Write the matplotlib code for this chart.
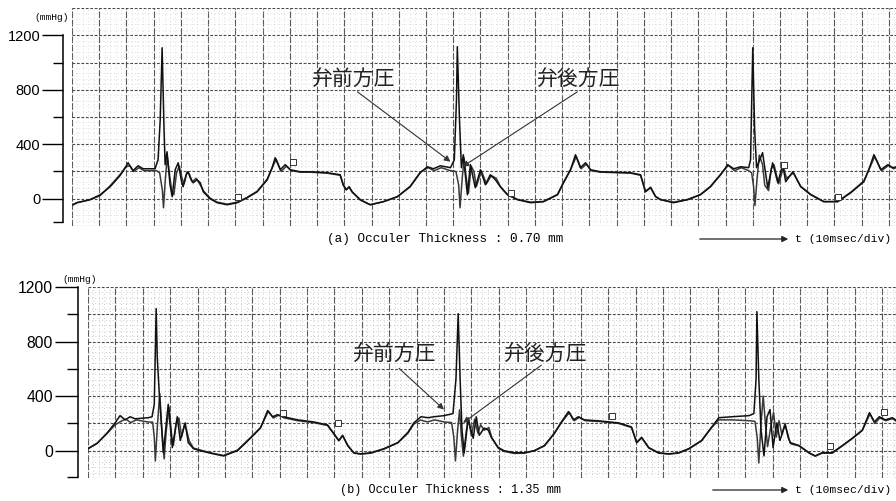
import matplotlib
matplotlib.use('Agg')
import matplotlib.pyplot as plt
import numpy as np

# t in ms (10 ms per division), pressure in mmHg
# (a) occuler thickness 0.70 mm
a_front = [(0.4, -44), (1.8, -29), (6.6, -7), (10.3, 29), (14.0, 88), (17.6, 169), (19.1, 213),
           (20.6, 264), (22.4, 206), (24.3, 242), (26.1, 220), (28.7, 220), (30.5, 220), (31.6, 286),
           (32.4, 580), (33.1, 1108), (33.8, 506), (34.2, 250), (34.9, 345), (36.0, 103), (36.8, 15),
           (37.9, 213), (39.0, 264), (40.1, 140), (40.8, 88), (41.9, 176), (42.6, 198), (43.7, 140),
           (44.5, 117), (45.9, 140), (47.1, 117), (48.2, 51), (50.7, 0), (53.3, -29), (57.0, -44),
           (60.7, -29), (64.3, 7), (68.0, 51), (71.7, 139), (73.5, 228), (74.6, 301), (76.5, 213),
           (78.3, 250), (80.1, 213), (83.8, 198), (87.5, 198), (93.7, 191), (98.5, 176), (99.6, 103),
           (100.7, 66), (101.8, 88), (102.9, 51), (105.9, -7), (109.5, -44), (114.3, -22), (119.5, 15),
           (124.2, 88), (127.9, 191), (130.5, 235), (132.7, 220), (135.3, 242), (139.0, 228),
           (140.4, 286), (141.2, 727), (141.5, 1116), (142.3, 580), (143.0, 228), (143.7, 323),
           (145.2, 29), (146.3, 250), (148.1, 81), (150.0, 213), (151.8, 103), (153.6, 176),
           (155.5, 139), (157.3, 88), (159.9, 29), (163.6, -7), (168.4, -29), (173.1, -22),
           (178.3, 29), (180.5, 117), (183.1, 213), (184.9, 323), (186.7, 228), (188.6, 264),
           (190.4, 213), (194.1, 198), (205.1, 191), (208.8, 176), (210.6, 51), (212.5, 81),
           (214.3, 15), (216.1, -7), (220.9, -29), (226.1, -7), (230.8, 29), (234.5, 88), (238.2, 176),
           (240.8, 250), (243.0, 220), (245.6, 235), (248.5, 228), (249.2, 286), (250.0, 1108),
           (250.7, 506), (251.4, 228), (253.6, 338), (255.5, 81), (257.3, 264), (259.2, 117),
           (261.0, 250), (262.1, 125), (264.7, 198), (267.6, 88), (271.3, 29), (276.1, -22),
           (281.2, -22), (286.0, 44), (290.8, 125), (292.6, 213), (294.5, 323), (297.0, 213),
           (299.6, 250), (301.4, 228), (302.9, 235)]
a_back = [(0.4, -44), (1.8, -29), (6.6, -7), (10.3, 22), (14.0, 95), (17.6, 176), (19.8, 235),
          (21.2, 242), (22.6, 200), (24.6, 228), (26.5, 206), (29.0, 206), (31.0, 206), (32.2, 190),
          (33.2, 60), (33.6, -66), (34.3, 150), (35.0, 310), (35.8, 180), (36.6, 60), (37.4, 30),
          (38.4, 190), (39.4, 240), (40.4, 150), (41.2, 110), (42.2, 195), (43.0, 185), (44.2, 125),
          (45.6, 150), (47.0, 105), (48.4, 55), (50.7, 5), (53.3, -25), (57.0, -40), (60.7, -25),
          (64.3, 10), (68.0, 55), (71.7, 145), (73.8, 240), (75.0, 290), (76.8, 200), (78.8, 240),
          (80.6, 206), (84.0, 195), (87.5, 195), (93.7, 188), (98.5, 172), (99.6, 100), (100.7, 66),
          (101.8, 85), (102.9, 48), (105.9, -10), (109.5, -44), (114.3, -22), (119.5, 15),
          (124.2, 92), (127.9, 195), (130.8, 228), (133.0, 206), (135.6, 228), (139.0, 206),
          (141.0, 200), (142.0, 100), (142.5, -66), (143.3, 150), (144.0, 300), (144.8, 150),
          (145.6, 40), (146.6, 240), (147.6, 200), (148.5, 90), (150.3, 205), (152.2, 110),
          (154.0, 170), (155.8, 150), (157.3, 90), (159.9, 32), (163.6, -5), (168.4, -25),
          (173.1, -20), (178.3, 32), (180.5, 120), (183.1, 215), (185.2, 310), (187.0, 220),
          (188.9, 255), (190.7, 206), (194.1, 195), (205.1, 188), (208.8, 172), (210.6, 55),
          (212.5, 85), (214.3, 18), (216.1, -5), (220.9, -25), (226.1, -5), (230.8, 32), (234.5, 92),
          (238.2, 180), (241.0, 245), (243.3, 206), (245.8, 228), (248.5, 206), (249.6, 190),
          (250.3, 90), (250.8, -50), (251.6, 150), (252.4, 320), (253.6, 250), (254.4, 100),
          (255.8, 60), (256.8, 220), (257.8, 250), (259.5, 110), (261.3, 230), (262.4, 150),
          (265.0, 190), (267.6, 92), (271.3, 32), (276.1, -20), (281.2, -20), (286.0, 48),
          (290.8, 130), (292.8, 220), (294.8, 310), (297.3, 206), (299.9, 245), (301.7, 220),
          (302.9, 230)]
a_marks = [(61.0, 15), (81.2, 272), (161.4, 44), (261.4, 250), (281.2, 15)]

# (b) occuler thickness 1.35 mm
b_front = [(0.0, 15), (3.3, 53), (6.9, 128), (9.9, 204), (11.7, 257), (13.6, 226), (15.4, 249),
           (17.2, 234), (22.0, 242), (23.4, 249), (24.2, 340), (24.9, 1042), (25.3, 680), (26.0, 430),
           (27.5, -15), (29.3, 340), (30.8, 23), (32.6, 249), (33.7, 75), (35.5, 204), (36.6, 60),
           (38.5, 15), (41.0, 0), (45.8, -23), (49.5, -38), (54.6, 0), (59.3, 91), (63.0, 166),
           (65.6, 294), (67.4, 249), (69.2, 264), (71.4, 249), (76.6, 226), (82.4, 211), (87.5, 189),
           (89.7, 128), (91.6, 75), (93.0, 113), (94.9, 38), (97.1, -15), (99.6, -23), (103.3, -15),
           (108.1, 15), (113.2, 60), (116.9, 136), (119.0, 204), (121.6, 249), (124.2, 242),
           (126.4, 249), (130.0, 257), (133.3, 272), (134.4, 528), (135.2, 1004), (135.9, 528),
           (136.6, 151), (137.4, -15), (138.8, 226), (140.7, 91), (141.8, 249), (142.9, 113),
           (144.7, 166), (146.2, 151), (147.3, 98), (149.8, 23), (152.0, 0), (155.7, -15),
           (159.3, -15), (163.0, 0), (166.7, 38), (170.3, 128), (172.9, 211), (175.5, 287),
           (177.3, 226), (179.1, 249), (181.3, 226), (186.4, 219), (193.8, 204), (198.5, 174),
           (200.4, 60), (202.2, 98), (204.8, 23), (208.4, -15), (212.1, -23), (215.7, -15),
           (219.4, 15), (224.1, 75), (227.8, 174), (230.4, 242), (235.2, 249), (241.4, 257),
           (243.2, 272), (244.0, 528), (244.3, 1019), (245.0, 528), (245.8, 151), (246.9, -38),
           (248.0, 249), (249.1, 302), (250.2, 23), (251.6, 204), (252.7, 75), (254.6, 189),
           (256.4, 60), (259.7, 38), (263.4, -15), (265.6, -38), (268.1, -15), (271.8, -15),
           (275.5, 38), (279.1, 91), (282.8, 151), (285.4, 279), (287.2, 211), (289.0, 249),
           (291.2, 226), (293.8, 242), (296.0, 211)]
b_back = [(0.0, 15), (3.3, 55), (6.9, 125), (9.9, 190), (12.0, 215), (13.8, 232), (15.6, 206),
          (17.6, 226), (22.0, 210), (23.6, 210), (24.2, 100), (24.6, -75), (25.4, 200), (26.2, 420),
          (27.0, 150), (27.8, -60), (28.6, 150), (29.6, 320), (30.6, 100), (31.2, 40), (32.2, 200),
          (33.2, 240), (34.2, 100), (35.2, 190), (36.0, 150), (37.0, 70), (38.5, 20), (41.0, 5),
          (45.8, -20), (49.5, -35), (54.6, 5), (59.3, 95), (63.0, 170), (65.9, 290), (67.7, 240),
          (69.6, 260), (71.8, 240), (76.6, 220), (82.4, 206), (87.5, 185), (89.7, 125), (91.6, 72),
          (93.0, 110), (94.9, 35), (97.1, -18), (99.6, -25), (103.3, -18), (108.1, 12), (113.2, 58),
          (116.9, 130), (119.0, 195), (121.4, 225), (124.0, 211), (126.6, 226), (130.0, 211),
          (132.8, 206), (133.6, 100), (134.2, -75), (135.0, 150), (135.7, 300), (136.4, 100),
          (137.1, -40), (138.2, 150), (139.0, 240), (140.0, 110), (141.2, 230), (142.4, 130),
          (143.4, 190), (144.7, 150), (146.4, 170), (147.5, 95), (149.8, 20), (152.0, -5),
          (155.7, -20), (159.3, -18), (163.0, 0), (166.7, 35), (170.3, 125), (172.9, 206),
          (175.8, 280), (177.6, 220), (179.4, 245), (181.6, 220), (186.4, 215), (193.8, 200),
          (198.5, 170), (200.4, 58), (202.2, 95), (204.8, 20), (208.4, -18), (212.1, -25),
          (215.7, -18), (219.4, 12), (224.1, 72), (227.8, 170), (230.4, 226), (235.2, 226),
          (241.4, 220), (243.6, 215), (244.4, 100), (245.0, -90), (245.8, 200), (246.6, 400),
          (247.4, 200), (248.2, 30), (249.4, 180), (250.4, 280), (251.4, 100), (252.4, 220),
          (253.4, 120), (254.6, 200), (255.8, 90), (256.8, 50), (259.7, 35), (263.4, -18),
          (265.6, -40), (268.1, -18), (271.8, -18), (275.5, 35), (279.1, 88), (282.8, 148),
          (285.6, 270), (287.4, 200), (289.2, 240), (291.4, 220), (293.8, 235), (296.0, 206)]
b_marks = [(71.4, 279), (91.2, 204), (191.2, 257), (271.1, 38), (290.9, 287)]

y_labels = [0, 400, 800, 1200]
y_minor = [200, 600, 1000]
captions = ["(a) Occuler Thickness : 0.70 mm", "(b) Occuler Thickness : 1.35 mm"]
front_label = "弁前方圧"
back_label = "弁後方圧"
time_label = "t (10msec/div)"
unit_label = "(mmHg)"

W, H = 896, 501
MONO = ['Liberation Mono', 'DejaVu Sans Mono']
JP = ['Noto Sans CJK JP', 'DejaVu Sans']


def fx(x):
    return x / W


def fy(y):
    return 1 - y / H


def make_panel(fig, left, top, bottom, ymax, px_div, axis_x, axis_low, major_len, minor_len,
               fsize, minor_col):
    ax = fig.add_axes([fx(left), fy(bottom), 1 - fx(left), fy(top) - fy(bottom)])
    xmax = (W - left) / px_div * 10
    ax.set_xticks(np.arange(0, xmax, 10))
    ax.set_xticks(np.arange(0, xmax, 2), minor=True)
    ax.set_yticks(np.arange(-200, ymax + 1, 200))
    ax.set_yticks(np.arange(-200, ymax + 1, 40), minor=True)
    # limits after the ticks, otherwise set_ticks widens the view
    ax.set_xlim(0, xmax)
    ax.set_ylim(-200, ymax)
    ax.tick_params(which='both', length=0, labelbottom=False, labelleft=False)
    for s in ax.spines.values():
        s.set_visible(False)
    ax.grid(True, which='minor', color=minor_col, lw=0.5, ls=(0, (1, 4)))
    ax.xaxis.grid(True, which='major', color='#5a5a5a', lw=0.8, ls=(0, (6, 1.5)))
    ax.yaxis.grid(True, which='major', color='#4a4a4a', lw=0.8, ls=(0, (2.5, 1.5)))
    ax.set_axisbelow(True)

    # detached pressure scale on the left
    ay = fig.add_axes([fx(axis_x), fy(bottom), 0.0001, fy(top) - fy(bottom)])
    ay.set_yticks(y_labels)
    ay.set_yticks(y_minor + [axis_low], minor=True)
    ay.set_ylim(-200, ymax)
    ay.patch.set_visible(False)
    for k in ['right', 'top', 'bottom']:
        ay.spines[k].set_visible(False)
    ay.spines['left'].set_bounds(axis_low, 1200)
    ay.spines['left'].set_linewidth(1.1)
    ay.set_xticks([])
    ay.set_yticklabels([str(v) for v in y_labels], family='Liberation Sans', fontsize=fsize)
    ay.tick_params(axis='y', which='major', direction='out', length=major_len, width=1.0, pad=1.4)
    ay.tick_params(axis='y', which='minor', direction='out', length=minor_len, width=1.0)
    return ax


def draw_traces(ax, front, back, marks):
    for series, col in [(back, '#3a3a3a'), (front, '#111111')]:
        t, p = zip(*series)
        ax.plot(t, p, color=col, lw=1.1, zorder=3)
    t, p = zip(*marks)
    ax.plot(t, p, ls='none', marker='s', ms=4.5, mfc='white', mec='#333333', mew=0.7, zorder=4)


def plot():
    fig = plt.figure(figsize=(W / 100, H / 100), dpi=100)

    ax_a = make_panel(fig, 72, 8, 226, 1400, 27.23, 63, -170, 15, 7.2, 10.5, '#bdbdbd')
    draw_traces(ax_a, a_front, a_back, a_marks)
    ax_b = make_panel(fig, 88, 287, 478, 1200, 27.38, 78, -190, 16.5, 7.9, 11.3, '#9a9a9a')
    ax_b.spines['right'].set_visible(True)
    ax_b.spines['right'].set_linestyle((0, (3, 1.5)))
    ax_b.spines['right'].set_color('#555555')
    draw_traces(ax_b, b_front, b_back, b_marks)

    arrow = dict(arrowstyle='-|>', color='#333333', lw=0.8, mutation_scale=9, shrinkA=0, shrinkB=0)
    # pointers to the two traces
    for ax, txt_y, left_txt, right_txt, left_pt, right_pt in [
            (ax_a, 881, (103.3, 104.8, 785), (186.0, 185.6, 785), (139.0, 272), (143.4, 235)),
            (ax_b, 710, (112.1, 113.6, 604), (167.0, 165.6, 627), (130.0, 302), (137.0, 204))]:
        ax.text(left_txt[0], txt_y, front_label, family=JP, fontsize=15, ha='center', va='center',
                color='#222222')
        ax.text(right_txt[0], txt_y, back_label, family=JP, fontsize=15, ha='center', va='center',
                color='#222222')
        ax.annotate('', xy=left_pt, xytext=left_txt[1:], arrowprops=arrow)
        ax.annotate('', xy=right_pt, xytext=right_txt[1:], arrowprops=arrow)

    # captions and time arrows
    fig.text(fx(445), fy(239), captions[0], family=MONO, fontsize=9.2, ha='center', va='center')
    fig.text(fx(450), fy(490), captions[1], family=MONO, fontsize=8.6, ha='center', va='center')
    for y, x0 in [(239, 697), (490, 710)]:
        fig.add_artist(matplotlib.patches.FancyArrowPatch(
            (fx(x0), fy(y)), (fx(791), fy(y)), transform=fig.transFigure,
            arrowstyle='-|>', mutation_scale=9, lw=0.9, color='#222222'))
        fig.text(fx(795), fy(y), time_label, family=MONO, fontsize=8.2, ha='left', va='center')

    fig.text(fx(52), fy(18), unit_label, family=MONO, fontsize=6.8, ha='center', va='center')
    fig.text(fx(80), fy(280), unit_label, family=MONO, fontsize=6.8, ha='center', va='center')

    fig.savefig('out.png', dpi=100)
    plt.close(fig)


if __name__ == "__main__":
    plot()
